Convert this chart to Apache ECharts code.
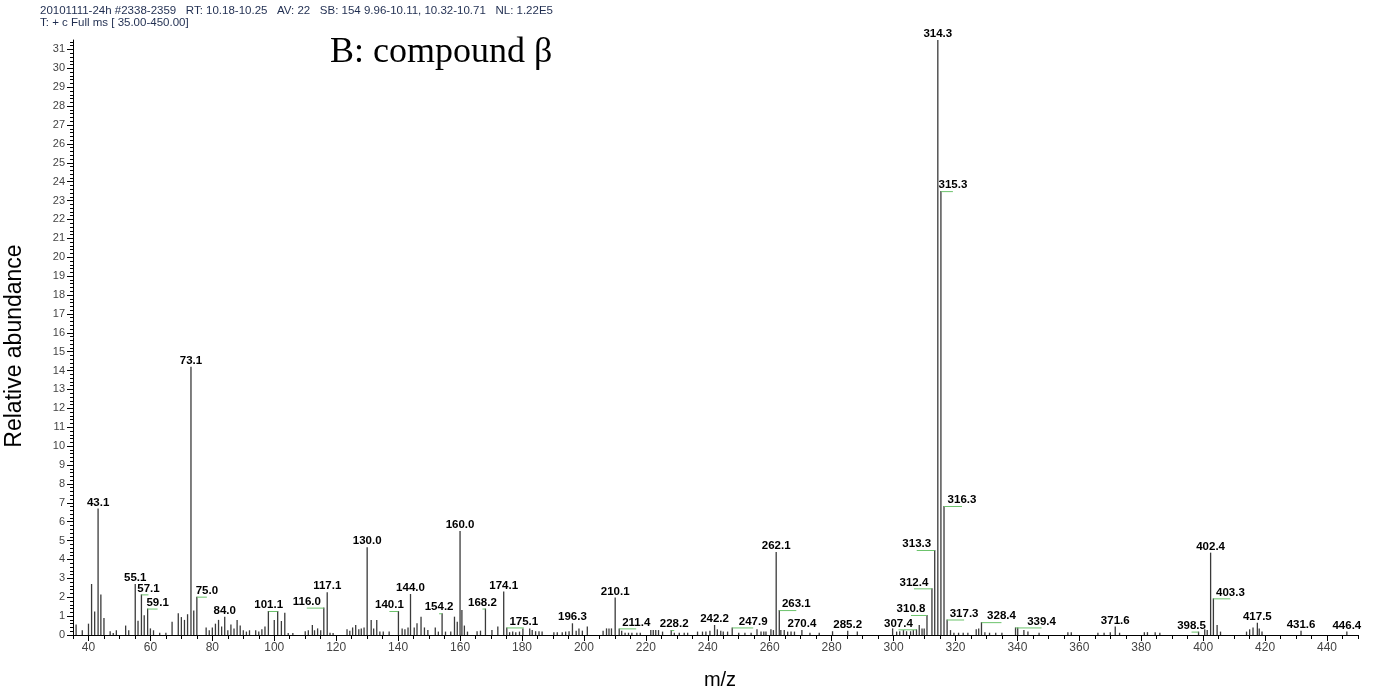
<!DOCTYPE html>
<html><head><meta charset="utf-8">
<script src="https://cdn.jsdelivr.net/npm/echarts@6/dist/echarts.min.js"></script>
<style>html,body{margin:0;padding:0;background:#fff}#c{width:1374px;height:692px}</style>
</head><body><div id="c"></div>
<script>
// ---------------- DATA ----------------
const peakMz = [36,38,40,41,42,43.1,44,45,47,48,49,52,53,55.1,56,57.1,58,59.1,60,61,63,65,67,69,70,71,72,73.1,74,75.0,78,79,80,81,82,83,84.0,85,86,87,88,89,90,91,92,94,95,96,97,98.1,100,101.1,102.3,103.4,104.5,106,110,111,112.3,113,114,115,116.0,117.1,118,119,123.5,124.4,125.3,126.3,127.3,128.1,129,130.0,131.3,132.1,133.1,134.1,135.2,137.1,140.1,141.3,142.2,143.2,144.0,145.2,146.1,147.4,148.5,149.6,152,153,154.2,155.3,157,158.2,159.1,160.0,160.6,161.4,162.4,165.5,166.6,168.2,170.3,172.2,174.1,175.1,176,177,178,179.2,180.3,182.5,183.3,184.4,185.5,186.5,190.3,191.4,193,194.1,195.2,196.3,197.5,198.4,199.5,201.1,206.2,207.3,208.1,208.9,210.1,211.4,212.2,213.3,214.4,215.5,217.1,218.2,221.6,222.4,223.2,224.1,225.4,228.2,229.2,230.8,232.4,233.5,236.7,238.3,239.4,240.7,242.2,243.1,244.2,245,246.4,247.9,250,252,254,255.9,257.2,258.1,258.8,260.4,261.2,262.1,263.1,263.6,264.7,265.8,266.9,268,270.4,273,276,280.3,285.2,288.3,299.7,301,302,303.2,304.2,305.5,306.4,307.4,308.3,309.2,309.9,310.8,312.4,313.3,314.3,315.3,316.3,317.3,318.4,319.5,321,322.5,324,326.7,327.5,328.4,329.5,331,333,335,339.4,340.1,342.1,343.4,347,356.3,357.4,366,368,370,371.6,373,381,382,384.5,386,398.5,400.5,401.3,402.4,403.3,404.5,405.6,414,415,416.1,417.5,418.1,419,431.6,446.4];
const peakAbundance = [0.55,0.25,0.6,2.7,1.25,6.7,2.15,0.9,0.2,0.1,0.25,0.5,0.25,2.7,0.75,2.15,1.05,1.4,0.35,0.25,0.12,0.12,0.7,1.15,0.95,0.8,1.1,14.2,1.3,2.03,0.4,0.25,0.4,0.6,0.8,0.45,0.97,0.25,0.55,0.35,0.8,0.5,0.25,0.18,0.25,0.25,0.18,0.3,0.45,1.27,0.8,1.27,0.74,1.18,0.1,0.1,0.2,0.25,0.53,0.25,0.35,0.25,1.45,2.26,0.12,0.1,0.3,0.23,0.4,0.53,0.3,0.35,0.4,4.65,0.8,0.35,0.8,0.18,0.18,0.18,1.27,0.35,0.3,0.4,2.17,0.4,0.62,0.97,0.4,0.26,0.4,0.18,1.15,0.18,0.18,0.97,0.7,5.5,1.32,0.5,0.18,0.2,0.23,1.4,0.26,0.45,2.3,0.4,0.15,0.18,0.15,0.18,0.35,0.35,0.26,0.2,0.2,0.18,0.15,0.15,0.15,0.18,0.2,0.62,0.23,0.35,0.23,0.45,0.23,0.35,0.35,0.35,1.98,0.35,0.23,0.12,0.12,0.12,0.12,0.12,0.26,0.26,0.26,0.26,0.18,0.26,0.12,0.12,0.12,0.12,0.18,0.18,0.18,0.23,0.53,0.3,0.23,0.18,0.18,0.4,0.12,0.12,0.12,0.3,0.18,0.18,0.18,0.3,0.26,4.4,1.32,0.26,0.26,0.18,0.18,0.18,0.26,0.12,0.12,0.2,0.23,0.18,0.35,0.18,0.2,0.26,0.2,0.2,0.26,0.3,0.53,0.35,0.35,1.06,2.47,4.5,31.5,23.5,6.83,0.82,0.26,0.12,0.12,0.12,0.12,0.3,0.35,0.68,0.15,0.12,0.12,0.12,0.4,0.4,0.26,0.18,0.12,0.15,0.15,0.12,0.12,0.15,0.45,0.12,0.15,0.15,0.15,0.12,0.18,0.3,0.26,4.36,1.94,0.53,0.18,0.18,0.3,0.4,0.65,0.35,0.18,0.23,0.18];
const labeledMz = [43.1,55.1,57.1,59.1,73.1,75.0,84.0,101.1,116.0,117.1,130.0,140.1,144.0,154.2,160.0,168.2,174.1,175.1,196.3,210.1,211.4,228.2,242.2,247.9,262.1,263.1,270.4,285.2,307.4,310.8,312.4,313.3,314.3,315.3,316.3,317.3,328.4,339.4,371.6,398.5,402.4,403.3,417.5,431.6,446.4];
const xTickLabels = [40,60,80,100,120,140,160,180,200,220,240,260,280,300,320,340,360,380,400,420,440];
const yTickLabels = [0,1,2,3,4,5,6,7,8,9,10,11,12,13,14,15,16,17,18,19,20,21,22,23,24,25,26,27,28,29,30,31];
const headerLine1 = "20101111-24h #2338-2359   RT: 10.18-10.25   AV: 22   SB: 154 9.96-10.11, 10.32-10.71   NL: 1.22E5";
const headerLine2 = "T: + c Full ms [ 35.00-450.00]";
const chartTitle = "B: compound \u03b2";
const xAxisTitle = "m/z";
const yAxisTitle = "Relative abundance";

// ---------------- STYLE (label placement, px offsets of text centre from the stick) ----------------
const LABEL_DX = {57.1:7,59.1:10,75.0:10,101.1:-9,116.0:-17,140.1:-9,154.2:-3,168.2:-3,175.1:17,211.4:17,228.2:3,247.9:21,263.1:17,307.4:-18,310.8:-16,312.4:-18,313.3:-18,315.3:12,316.3:18,317.3:17,328.4:20,339.4:26,398.5:-7,403.3:17};

const xMinor = []; for (let v = 35; v <= 450; v += 5) xMinor.push(v);
const yMinor = []; for (let k = 0; k <= 157; k++) yMinor.push(+(k*0.2).toFixed(1));

const FONT = '"Liberation Sans", Arial, sans-serif';
const chart = echarts.init(document.getElementById('c'), null, {renderer:'canvas'});

function abundanceOf(m){ const i = peakMz.indexOf(m); return i >= 0 ? peakAbundance[i] : 0; }

const XMIN = 35, XMAX = 450, YMAX = 31.5;

chart.setOption({
  animation:false,
  backgroundColor:'#fff',
  grid:{left:73, right:16, top:40, bottom:57, containLabel:false},
  xAxis:[
    {type:'value', min:XMIN, max:XMAX, position:'bottom',
     axisLine:{show:true, onZero:false, lineStyle:{color:'#000', width:1}},
     axisTick:{show:true, customValues:xTickLabels, length:6, lineStyle:{color:'#000'}},
     axisLabel:{customValues:xTickLabels, color:'#444', fontSize:12, fontFamily:FONT, margin:7},
     splitLine:{show:false}},
    {type:'value', min:XMIN, max:XMAX, position:'bottom',
     axisLine:{show:false}, axisLabel:{show:false}, splitLine:{show:false},
     axisTick:{show:true, customValues:xMinor, length:4, lineStyle:{color:'#000'}}}
  ],
  yAxis:[
    {type:'value', min:0, max:YMAX, position:'left',
     axisLine:{show:true, onZero:false, lineStyle:{color:'#000', width:1}},
     axisTick:{show:true, customValues:yTickLabels, length:6, lineStyle:{color:'#000'}},
     axisLabel:{customValues:yTickLabels, color:'#444', fontSize:11, fontFamily:FONT, margin:8},
     splitLine:{show:false}},
    {type:'value', min:0, max:YMAX, position:'left',
     axisLine:{show:false}, axisLabel:{show:false}, splitLine:{show:false},
     axisTick:{show:true, customValues:yMinor, length:3, lineStyle:{color:'#000'}}}
  ],
  graphic:[
    {type:'text', left:40, top:5, style:{text:headerLine1, font:'11.5px '+FONT, fill:'#1f2d50'}},
    {type:'text', left:40, top:17, style:{text:headerLine2, font:'11.5px '+FONT, fill:'#1f2d50'}},
    {type:'text', left:330, top:35, style:{text:chartTitle, font:'36px "Liberation Serif", "Times New Roman", serif', fill:'#000'}},
    {type:'text', x:15, y:346, rotation:Math.PI/2, style:{text:yAxisTitle, font:'23px '+FONT, fill:'#000', align:'center', verticalAlign:'middle', textAlign:'center', textVerticalAlign:'middle'}},
    {type:'text', x:720, y:680, style:{text:xAxisTitle, font:'20px '+FONT, fill:'#000', align:'center', verticalAlign:'middle', textAlign:'center', textVerticalAlign:'middle'}}
  ],
  series:[
    {type:'custom', name:'peaks', xAxisIndex:0, yAxisIndex:0,
     data: peakMz.map((m,i)=>[m, peakAbundance[i]]),
     renderItem:function(params, api){
       const m = api.value(0), v = api.value(1);
       const p0 = api.coord([m,0]), p1 = api.coord([m,v]);
       return {type:'line', shape:{x1:p0[0], y1:p0[1], x2:p1[0], y2:p1[1]}, style:{stroke:'#3a3a3a', lineWidth:1.3}};
     }},
    {type:'custom', name:'labels', xAxisIndex:0, yAxisIndex:0,
     data: labeledMz.map(m=>[m, abundanceOf(m)]),
     renderItem:function(params, api){
       const m = api.value(0), v = api.value(1);
       const p = api.coord([m,v]);
       const dx = LABEL_DX[m] || 0;
       const children = [];
       if (Math.abs(dx) >= 3) {
         children.push({type:'line', shape:{x1:p[0], y1:p[1]+0.5, x2:p[0]+dx, y2:p[1]+0.5}, style:{stroke:'#6cc36c', lineWidth:1}});
       }
       children.push({type:'text', x:p[0]+dx, y:p[1]-6, style:{text:m.toFixed(1), font:'bold 11.5px '+FONT, fill:'#000', align:'center', verticalAlign:'middle', textAlign:'center', textVerticalAlign:'middle'}});
       return {type:'group', children:children};
     }}
  ]
});
</script></body></html>
